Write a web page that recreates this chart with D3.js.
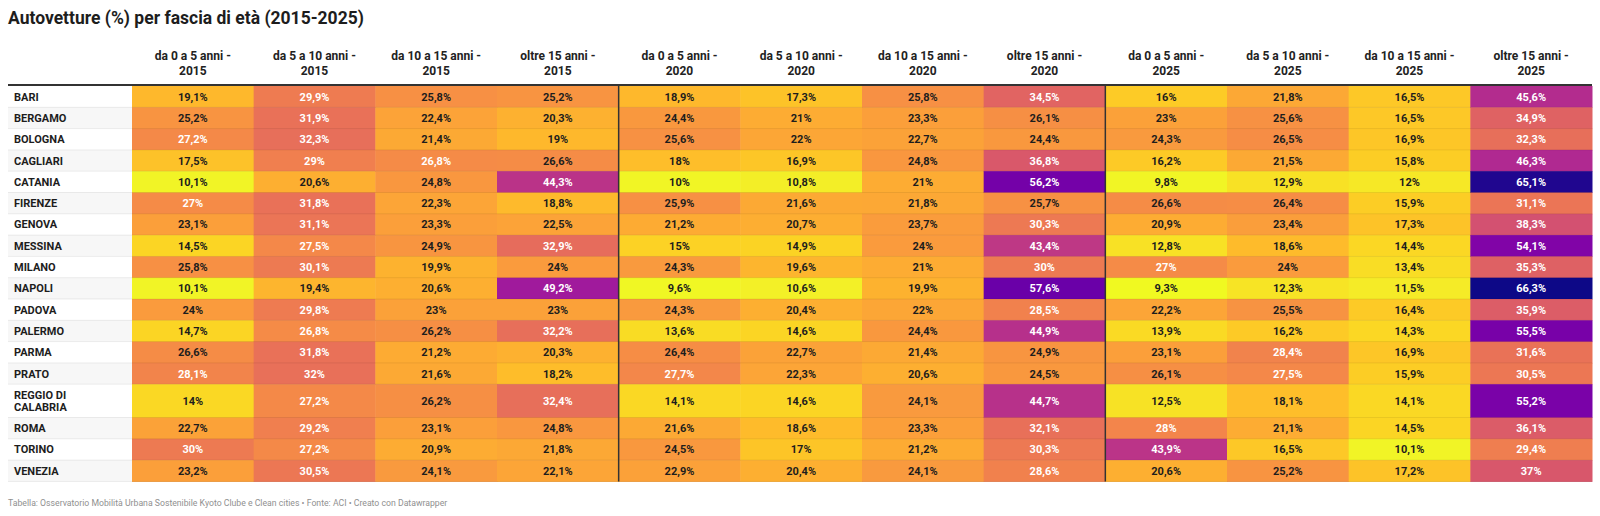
<html>
<head>
<meta charset="utf-8">
<title>Autovetture per fascia di età</title>
<style>
  body { margin: 0; background: #fff; }
  svg text { font-family: Roboto, "Noto Sans", sans-serif; }
</style>
</head>
<body>
<div id="chart"></div>
<script src="https://cdn.jsdelivr.net/npm/d3@7"></script>
<script>
// cities (rows)
var cities = ["BARI", "BERGAMO", "BOLOGNA", "CAGLIARI", "CATANIA", "FIRENZE", "GENOVA", "MESSINA",
  "MILANO", "NAPOLI", "PADOVA", "PALERMO", "PARMA", "PRATO", "REGGIO DI CALABRIA", "ROMA", "TORINO", "VENEZIA"];

// column labels
var ageBands = ["da 0 a 5 anni -", "da 5 a 10 anni -", "da 10 a 15 anni -", "oltre 15 anni -"];
var years = ["2015", "2020", "2025"];

// values (%), one array per column, same order as cities
var y2015_0_5   = [19.1, 25.2, 27.2, 17.5, 10.1, 27, 23.1, 14.5, 25.8, 10.1, 24, 14.7, 26.6, 28.1, 14, 22.7, 30, 23.2];
var y2015_5_10  = [29.9, 31.9, 32.3, 29, 20.6, 31.8, 31.1, 27.5, 30.1, 19.4, 29.8, 26.8, 31.8, 32, 27.2, 29.2, 27.2, 30.5];
var y2015_10_15 = [25.8, 22.4, 21.4, 26.8, 24.8, 22.3, 23.3, 24.9, 19.9, 20.6, 23, 26.2, 21.2, 21.6, 26.2, 23.1, 20.9, 24.1];
var y2015_15    = [25.2, 20.3, 19, 26.6, 44.3, 18.8, 22.5, 32.9, 24, 49.2, 23, 32.2, 20.3, 18.2, 32.4, 24.8, 21.8, 22.1];

var y2020_0_5   = [18.9, 24.4, 25.6, 18, 10, 25.9, 21.2, 15, 24.3, 9.6, 24.3, 13.6, 26.4, 27.7, 14.1, 21.6, 24.5, 22.9];
var y2020_5_10  = [17.3, 21, 22, 16.9, 10.8, 21.6, 20.7, 14.9, 19.6, 10.6, 20.4, 14.6, 22.7, 22.3, 14.6, 18.6, 17, 20.4];
var y2020_10_15 = [25.8, 23.3, 22.7, 24.8, 21, 21.8, 23.7, 24, 21, 19.9, 22, 24.4, 21.4, 20.6, 24.1, 23.3, 21.2, 24.1];
var y2020_15    = [34.5, 26.1, 24.4, 36.8, 56.2, 25.7, 30.3, 43.4, 30, 57.6, 28.5, 44.9, 24.9, 24.5, 44.7, 32.1, 30.3, 28.6];

var y2025_0_5   = [16, 23, 24.3, 16.2, 9.8, 26.6, 20.9, 12.8, 27, 9.3, 22.2, 13.9, 23.1, 26.1, 12.5, 28, 43.9, 20.6];
var y2025_5_10  = [21.8, 25.6, 26.5, 21.5, 12.9, 26.4, 23.4, 18.6, 24, 12.3, 25.5, 16.2, 28.4, 27.5, 18.1, 21.1, 16.5, 25.2];
var y2025_10_15 = [16.5, 16.5, 16.9, 15.8, 12, 15.9, 17.3, 14.4, 13.4, 11.5, 16.4, 14.3, 16.9, 15.9, 14.1, 14.5, 10.1, 17.2];
var y2025_15    = [45.6, 34.9, 32.3, 46.3, 65.1, 31.1, 38.3, 54.1, 35.3, 66.3, 35.9, 55.5, 31.6, 30.5, 55.2, 36.1, 29.4, 37];

var columns = [
  { year: "2015", band: 0, values: y2015_0_5 },
  { year: "2015", band: 1, values: y2015_5_10 },
  { year: "2015", band: 2, values: y2015_10_15 },
  { year: "2015", band: 3, values: y2015_15 },
  { year: "2020", band: 0, values: y2020_0_5 },
  { year: "2020", band: 1, values: y2020_5_10 },
  { year: "2020", band: 2, values: y2020_10_15 },
  { year: "2020", band: 3, values: y2020_15 },
  { year: "2025", band: 0, values: y2025_0_5 },
  { year: "2025", band: 1, values: y2025_5_10 },
  { year: "2025", band: 2, values: y2025_10_15 },
  { year: "2025", band: 3, values: y2025_15 }
];
columns.forEach(function(c, i) { c.key = "c" + i; });

var title = "Autovetture (%) per fascia di età (2015-2025)";
var footer = "Tabella: Osservatorio Mobilità Urbana Sostenibile Kyoto Clube e Clean cities • Fonte: ACI • Creato con Datawrapper";

// layout
var width = 1600, height = 516;
var left = 8, nameEnd = 132, right = 1592;
var headTop = 85;
var lineH = 12, rowPad = 9.3;

var svg = d3.select("#chart").append("svg")
  .attr("width", width)
  .attr("height", height);

var it = d3.formatLocale({ decimal: ",", thousands: ".", grouping: [3], currency: ["", "€"] });
var fmt = it.format(".1~f");

// plasma colour scale, stretched a bit on the low/mid end
var tScale = d3.scaleLinear()
  .domain([9.3, 34.5, 57.6, 66.3])
  .range([1, 0.6, 0.2, 0])
  .clamp(true);
var color = function(v) { return d3.interpolatePlasma(tScale(v)); };

// title
svg.append("text")
  .attr("x", left)
  .attr("y", 24)
  .style("font-size", "17.5px")
  .style("font-weight", "700")
  .style("fill", "#1d1d1d")
  .text(title);

// wrap city names to fit the first column
var measure = svg.append("text")
  .style("font-size", "11px")
  .style("font-weight", "700");
var nameLines = cities.map(function(name) {
  var words = name.split(" "), lines = [], cur = "";
  words.forEach(function(w) {
    var test = cur ? cur + " " + w : w;
    measure.text(test);
    if (cur && measure.node().getComputedTextLength() > 104) {
      lines.push(cur);
      cur = w;
    } else {
      cur = test;
    }
  });
  lines.push(cur);
  return lines;
});
measure.remove();

var rowHeights = nameLines.map(function(l) { return rowPad + lineH * l.length; });
var rowTops = [0].concat(Array.from(d3.cumsum(rowHeights))).slice(0, cities.length);
var tableBottom = headTop + 1 + d3.sum(rowHeights);

var x = d3.scaleBand()
  .domain(columns.map(function(c) { return c.key; }))
  .range([nameEnd, right]);

var yTop = d3.scaleOrdinal()
  .domain(cities)
  .range(rowTops.map(function(t) { return headTop + 1 + t; }));
var yH = d3.scaleOrdinal()
  .domain(cities)
  .range(rowHeights);

// column headers
var heads = svg.append("g").selectAll("text")
  .data(columns)
  .enter().append("text")
    .attr("text-anchor", "middle")
    .attr("x", function(d) { return x(d.key) + x.bandwidth() / 2; })
    .style("font-size", "12px")
    .style("font-weight", "700")
    .style("fill", "#222");
heads.append("tspan")
  .attr("x", function(d) { return x(d.key) + x.bandwidth() / 2; })
  .attr("y", 60)
  .text(function(d) { return ageBands[d.band]; });
heads.append("tspan")
  .attr("x", function(d) { return x(d.key) + x.bandwidth() / 2; })
  .attr("y", 75)
  .text(function(d) { return d.year; });

// rows
var rows = svg.append("g").selectAll("g")
  .data(cities)
  .enter().append("g");

rows.append("rect")
  .attr("x", left)
  .attr("y", function(d) { return yTop(d); })
  .attr("width", nameEnd - left)
  .attr("height", function(d) { return yH(d); })
  .style("fill", function(d, i) { return i % 2 ? "#f7f7f7" : "#ffffff"; });

rows.append("text")
  .attr("x", 14)
  .style("font-size", "11px")
  .style("font-weight", "700")
  .style("fill", "#1d1d1d")
  .each(function(d, i) {
    var lines = nameLines[i];
    var cy = yTop(d) + yH(d) / 2;
    d3.select(this).selectAll("tspan")
      .data(lines)
      .enter().append("tspan")
        .attr("x", 14)
        .attr("y", function(l, j) { return cy + 4 + (j - (lines.length - 1) / 2) * lineH; })
        .text(function(l) { return l; });
  });

// cells
var cells = [];
columns.forEach(function(c) {
  c.values.forEach(function(v, i) {
    cells.push({ key: c.key, city: cities[i], value: v });
  });
});

var cg = svg.append("g");
cg.selectAll("rect")
  .data(cells)
  .enter().append("rect")
    .attr("x", function(d) { return x(d.key); })
    .attr("y", function(d) { return yTop(d.city); })
    .attr("width", x.bandwidth() + 0.5)
    .attr("height", function(d) { return yH(d.city) + 0.5; })
    .style("fill", function(d) { return color(d.value); });

cg.selectAll("text")
  .data(cells)
  .enter().append("text")
    .attr("text-anchor", "middle")
    .attr("x", function(d) { return x(d.key) + x.bandwidth() / 2; })
    .attr("y", function(d) { return yTop(d.city) + yH(d.city) / 2 + 4; })
    .style("font-size", "11px")
    .style("font-weight", "700")
    .style("fill", function(d) { return d.value >= 26.7 ? "#ffffff" : "#1d1d1d"; })
    .text(function(d) { return fmt(d.value) + "%"; });

// row separators
svg.append("g").selectAll("line")
  .data(cities)
  .enter().append("line")
    .attr("x1", left)
    .attr("x2", right)
    .attr("y1", function(d) { return yTop(d) + yH(d); })
    .attr("y2", function(d) { return yTop(d) + yH(d); })
    .style("stroke", "rgba(0,0,0,0.07)")
    .style("stroke-width", 1);

// group separators
svg.append("g").selectAll("line")
  .data([columns[4].key, columns[8].key])
  .enter().append("line")
    .attr("x1", function(d) { return x(d); })
    .attr("x2", function(d) { return x(d); })
    .attr("y1", headTop)
    .attr("y2", tableBottom)
    .style("stroke", "#333")
    .style("stroke-width", 1.5);

// header rule
svg.append("line")
  .attr("x1", left)
  .attr("x2", right)
  .attr("y1", headTop)
  .attr("y2", headTop)
  .style("stroke", "#333")
  .style("stroke-width", 2);

// footer
svg.append("text")
  .attr("x", left)
  .attr("y", 506)
  .style("font-size", "8.7px")
  .style("fill", "#909090")
  .text(footer);
</script>
</body>
</html>
